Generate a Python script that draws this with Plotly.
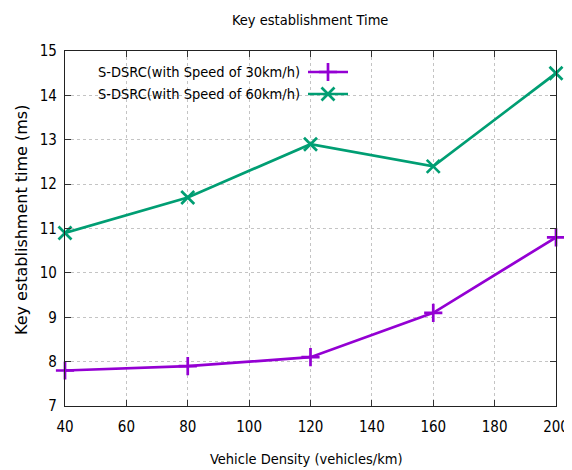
import plotly.graph_objects as go

density = [40, 80, 120, 160, 200]
speed30 = [7.8, 7.9, 8.1, 9.1, 10.8]
speed60 = [10.9, 11.7, 12.9, 12.4, 14.5]
names = ["S-DSRC(with Speed of 30km/h)", "S-DSRC(with Speed of 60km/h)"]
colors = ["#9400D3", "#009E73"]
symbols = ["cross-thin-open", "x-thin-open"]

FONT = "DejaVu Sans Condensed, Liberation Sans Narrow, DejaVu Sans, sans-serif"
FS = 14.5

# page body has an 8px margin; work in window pixels and shift
OFF = 8
W, H = 572 - OFF, 470 - OFF
PL, PR, PT, PB = 65, 556, 51, 406          # plot box in window pixels
L, R, T, B = PL - OFF, W - (PR - OFF), PT - OFF, H - (PB - OFF)
pw, ph = W - L - R, H - T - B
def px(x): return (x - OFF - L) / pw
def py(y): return 1 - (y - OFF - T) / ph

fig = go.Figure()
for ys, nm, c, s in zip([speed30, speed60], names, colors, symbols):
    fig.add_trace(go.Scatter(
        x=density, y=ys, name=nm, mode="lines+markers",
        line=dict(color=c, width=2.7),
        marker=dict(symbol=s, size=13, color=c, line=dict(color=c, width=2.7)),
        showlegend=False, cliponaxis=False))

# gnuplot-style key: text on the left, sample on the right, opaque box
fig.add_shape(type="rect", xref="paper", yref="paper",
              x0=px(98), x1=px(355), y0=py(60), y1=py(106),
              fillcolor="white", line=dict(width=0), layer="between")
for i, (nm, c, s) in enumerate(zip(names, colors, symbols)):
    yy = 72 + 22 * i
    fig.add_annotation(xref="paper", yref="paper", x=px(302), y=py(yy),
                       text=nm, showarrow=False, xanchor="right", yanchor="middle",
                       font=dict(family=FONT, size=FS, color="black"))
    fig.add_trace(go.Scatter(
        x=[px(308), px(348)], y=[py(yy)] * 2, xaxis="x2", yaxis="y2",
        mode="lines", line=dict(color=c, width=2.7), showlegend=False, hoverinfo="skip"))
    fig.add_trace(go.Scatter(
        x=[px(328)], y=[py(yy)], xaxis="x2", yaxis="y2",
        mode="markers", marker=dict(symbol=s, size=13, color=c, line=dict(color=c, width=2.7)),
        showlegend=False, hoverinfo="skip"))

axis_common = dict(showline=True, linecolor="#222222", linewidth=1.3, mirror="allticks",
                   ticks="inside", ticklen=6, tickcolor="#333333", tickwidth=1,
                   showgrid=True, gridcolor="#c4c4c4", griddash="dot", gridwidth=1,
                   zeroline=False, automargin=False,
                   tickfont=dict(family=FONT, size=15, color="black"))

fig.update_layout(
    width=W, height=H, margin=dict(l=L, r=R, t=T, b=B),
    paper_bgcolor="white", plot_bgcolor="white",
    xaxis=dict(range=[40, 200], tickvals=list(range(40, 201, 20)),
               ticklabelstandoff=7, **axis_common),
    yaxis=dict(range=[7, 15], tickvals=list(range(7, 16)),
               ticklabelstandoff=4, **axis_common),
    xaxis2=dict(range=[0, 1], overlaying="x", visible=False, fixedrange=True),
    yaxis2=dict(range=[0, 1], overlaying="y", visible=False, fixedrange=True),
)

# titles placed like gnuplot
fig.add_annotation(xref="paper", yref="paper", x=px(310), y=py(20),
                   text="Key establishment Time", showarrow=False,
                   xanchor="center", yanchor="middle",
                   font=dict(family=FONT, size=FS, color="black"))
fig.add_annotation(xref="paper", yref="paper", x=px(306), y=py(459),
                   text="Vehicle Density (vehicles/km)", showarrow=False,
                   xanchor="center", yanchor="middle",
                   font=dict(family=FONT, size=FS, color="black"))
fig.add_annotation(xref="paper", yref="paper", x=px(21), y=py(220),
                   text="Key establishment time (ms)", showarrow=False, textangle=-90,
                   xanchor="center", yanchor="middle",
                   font=dict(family="DejaVu Sans, sans-serif", size=16, color="black"))

fig.write_html("out.html")
